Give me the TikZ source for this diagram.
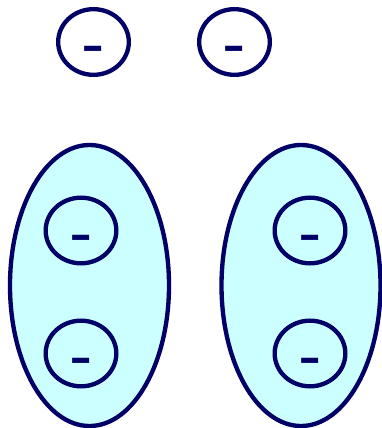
\documentclass[tikz,border=0pt]{standalone}
\usepackage{fontspec}
\newfontfamily\signfont{DejaVu Sans}
\usetikzlibrary{shapes.geometric}
\definecolor{navy}{RGB}{0,0,102}
\definecolor{paleaqua}{RGB}{204,255,255}

\begin{document}
\begin{tikzpicture}[x=0.03cm,y=-0.03cm,
  ion/.style={ellipse,draw=navy,line width=0.13cm,minimum width=2.12cm,minimum height=1.97cm,inner sep=0pt},
  pair/.style={ellipse,draw=navy,fill=paleaqua,line width=0.13cm,minimum width=4.77cm,minimum height=8.43cm,inner sep=0pt},
  sign/.style={text=navy,font=\signfont\fontsize{55}{55}\selectfont,inner sep=0pt,anchor=base}]
\useasboundingbox (0,0) rectangle (381,428);
% free ions
\node[ion] (free1) at (93.5,42) {};
\node[ion] (free2) at (234.5,42) {};
% bound pairs
\node[pair] (pairL) at (89.5,285.5) {};
\node[pair] (pairR) at (301,285.5) {};
\node[ion] (L1) at (81,230.5) {};
\node[ion] (L2) at (81,353.5) {};
\node[ion] (R1) at (310,230.5) {};
\node[ion] (R2) at (310,353.5) {};
% charges
\foreach \n in {free1,free2,L1,L2,R1,R2}
  \node[sign] (\n-sign) at ([yshift=-0.74cm]\n.center) {-};
\end{tikzpicture}
\end{document}
